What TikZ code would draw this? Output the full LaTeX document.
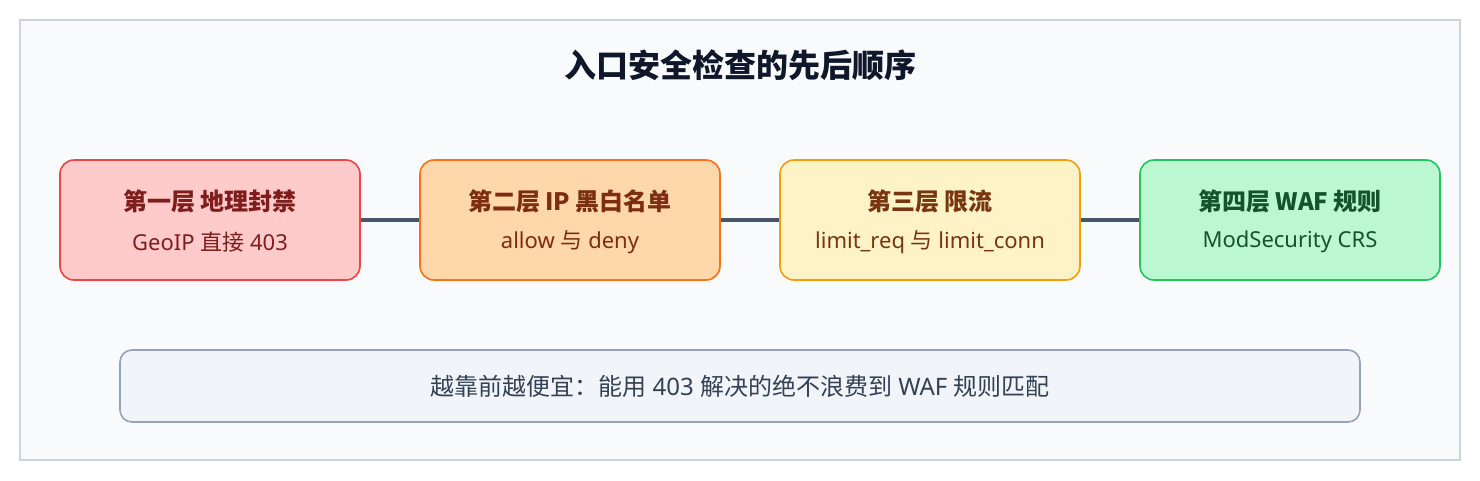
\documentclass[tikz,border=0pt]{standalone}
\usepackage{fontspec}
\setmainfont{Noto Sans}
\newfontfamily\cjk{Noto Sans CJK SC}
\begin{document}
\begin{tikzpicture}[x=1pt,y=-1pt,
  layerbox/.style={draw, line width=1.6pt, rounded corners=14pt, minimum width=300pt, minimum height=120pt, inner sep=0pt, align=center},
  link/.style={draw=linkc, line width=3.5pt},
  ttl/.style={font=\fontsize{24}{28}\selectfont\bfseries\cjk},
  sub/.style={font=\fontsize{22}{26}\selectfont}]
\definecolor{bgc}{HTML}{F8FAFC}
\definecolor{framec}{HTML}{CBD5E1}
\definecolor{linkc}{HTML}{475569}
\definecolor{titlec}{HTML}{0F172A}
\definecolor{rfill}{HTML}{FECACA}\definecolor{rdraw}{HTML}{EF4444}\definecolor{rtext}{HTML}{7F1D1D}
\definecolor{ofill}{HTML}{FED7AA}\definecolor{odraw}{HTML}{F97316}\definecolor{otext}{HTML}{7C2D12}
\definecolor{yfill}{HTML}{FEF3C7}\definecolor{ydraw}{HTML}{F59E0B}\definecolor{ytext}{HTML}{78350F}
\definecolor{gfill}{HTML}{BBF7D0}\definecolor{gdraw}{HTML}{22C55E}\definecolor{gtext}{HTML}{14532D}
\definecolor{nfill}{HTML}{F1F5F9}\definecolor{ndraw}{HTML}{94A3B8}\definecolor{ntext}{HTML}{334155}
\useasboundingbox[fill=white] (0,0) rectangle (1480,480);
\draw[fill=bgc, draw=framec, line width=1.5pt] (20,20) rectangle (1460,460);
\node[font=\fontsize{32}{36}\selectfont\bfseries\cjk, text=titlec] (title) at (740,65) {入口安全检查的先后顺序};
\node[layerbox, fill=rfill, draw=rdraw] (l1) at (210,220) {};
\node[layerbox, fill=ofill, draw=odraw] (l2) at (570,220) {};
\node[layerbox, fill=yfill, draw=ydraw] (l3) at (930,220) {};
\node[layerbox, fill=gfill, draw=gdraw] (l4) at (1290,220) {};
\draw[link] (l1.east) -- (l2.west);
\draw[link] (l2.east) -- (l3.west);
\draw[link] (l3.east) -- (l4.west);
\node[ttl, text=rtext] (t1) at (210,201) {第一层 地理封禁};
\node[sub, text=rtext] (s1) at (210,242) {GeoIP {\cjk 直接} 403};
\node[ttl, text=otext] (t2) at (570,201) {第二层 IP 黑白名单};
\node[sub, text=otext] (s2) at (570,242) {allow {\cjk 与} deny};
\node[ttl, text=ytext] (t3) at (930,201) {第三层 限流};
\node[sub, text=ytext] (s3) at (930,242) {limit\_req {\cjk 与} limit\_conn};
\node[ttl, text=gtext] (t4) at (1290,201) {第四层 WAF 规则};
\node[sub, text=gtext] (s4) at (1290,242) {ModSecurity CRS};
\node[draw=ndraw, fill=nfill, line width=1.6pt, rounded corners=12pt, minimum width=1240pt, minimum height=72pt, inner sep=0pt, text=ntext, font=\fontsize{24}{28}\selectfont] (note) at (740,386) {{\cjk 越靠前越便宜：能用} 403 {\cjk 解决的绝不浪费到} WAF {\cjk 规则匹配}};
\end{tikzpicture}
\end{document}
